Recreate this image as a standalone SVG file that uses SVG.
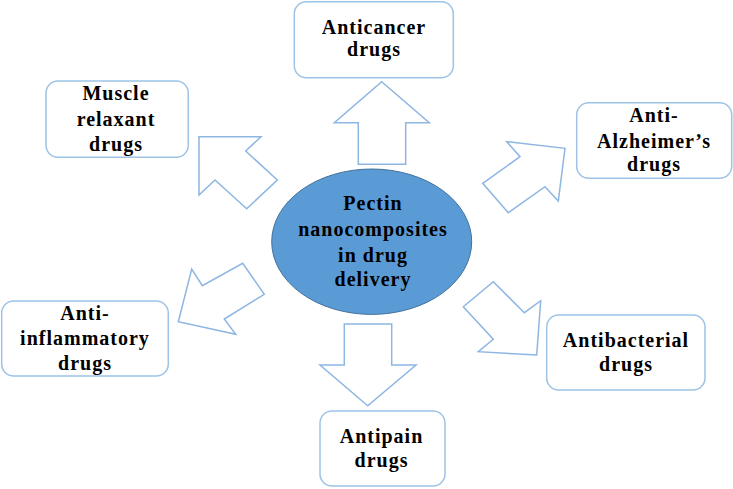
<svg xmlns="http://www.w3.org/2000/svg" width="733" height="489" viewBox="0 0 733 489">
<style>
.box{fill:#fff;stroke:#9DC3E6;stroke-width:1.5}
.arr{fill:#fff;stroke:#8DB6E2;stroke-width:1.5;stroke-linejoin:miter}
.t{font-family:"Liberation Serif","Times New Roman",serif;font-weight:bold;font-size:20px;letter-spacing:1px;fill:#000;text-anchor:middle}
</style>
<rect width="733" height="489" fill="#fff"/>
<g id="connectors">
<polygon class="arr" points="381.7,81.7 429.3,122.7 405.7,122.7 405.7,164.3 358.3,164.3 358.3,122.7 334.3,122.7"/>
<polygon class="arr" points="199,136.7 261,136.7 245.7,151 277.3,180 246.7,208.7 215,180 199,195"/>
<polygon class="arr" points="565,148.3 558.3,201 545,186.7 508.3,212.7 482.7,183.3 520,156.7 506.7,141.7"/>
<polygon class="arr" points="178.3,321.7 191.7,269 202.3,285.7 242.7,263.3 264.3,294.3 224.3,319 235.7,334.3"/>
<polygon class="arr" points="367.7,405.7 320,365 344.3,365 344.3,324 391.7,324 391.7,365 416,365"/>
<polygon class="arr" points="536.7,355 478.3,351.7 493.3,339.3 463.3,306.7 493.3,281.7 524.3,312.7 540.7,300.7"/>
</g>
<g id="center">
<ellipse cx="371.7" cy="241.7" rx="100" ry="72.7" fill="#5B9BD5" stroke="#41719C" stroke-width="1"/>
<text class="t" x="373" y="210">Pectin</text>
<text class="t" x="373" y="236">nanocomposites</text>
<text class="t" x="373" y="261.7">in drug</text>
<text class="t" x="373" y="286">delivery</text>
</g>
<g id="anticancer">
<rect class="box" x="294.3" y="1.7" width="159" height="76" rx="12"/>
<text class="t" x="374" y="34.3">Anticancer</text>
<text class="t" x="374" y="55.5">drugs</text>
</g>
<g id="muscle">
<rect class="box" x="46" y="81" width="142.3" height="76.3" rx="12"/>
<text class="t" x="116" y="100">Muscle</text>
<text class="t" x="116" y="126">relaxant</text>
<text class="t" x="116" y="150.5">drugs</text>
</g>
<g id="alzheimer">
<rect class="box" x="576.7" y="102.7" width="155" height="75.6" rx="12"/>
<text class="t" x="654" y="121.7">Anti-</text>
<text class="t" x="654" y="148">Alzheimer’s</text>
<text class="t" x="654" y="171">drugs</text>
</g>
<g id="antiinflammatory">
<rect class="box" x="1.7" y="301" width="166.6" height="75" rx="12"/>
<text class="t" x="85" y="320">Anti-</text>
<text class="t" x="85" y="345">inflammatory</text>
<text class="t" x="85" y="370">drugs</text>
</g>
<g id="antibacterial">
<rect class="box" x="546.7" y="315" width="158.3" height="75" rx="12"/>
<text class="t" x="626" y="346.7">Antibacterial</text>
<text class="t" x="626" y="370.7">drugs</text>
</g>
<g id="antipain">
<rect class="box" x="320" y="411" width="125" height="75" rx="12"/>
<text class="t" x="381.5" y="443.3">Antipain</text>
<text class="t" x="381.5" y="466.7">drugs</text>
</g>
</svg>
